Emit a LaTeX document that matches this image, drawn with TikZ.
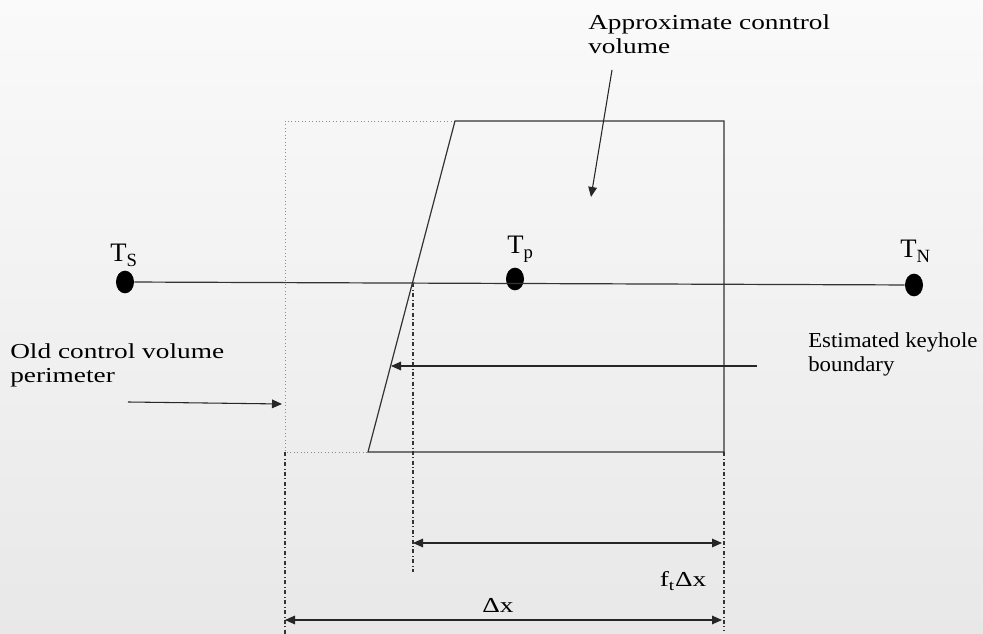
\documentclass[tikz,border=0pt]{standalone}
\usepackage{fontspec}
\setmainfont{Liberation Serif}
\usepackage{graphicx}
\usetikzlibrary{arrows.meta,shapes.geometric}
\newcommand{\wide}[2][1.28]{\scalebox{#1}[1]{#2}}

\begin{document}
\begin{tikzpicture}[
    x=0.75pt, y=-0.75pt,
    lbl/.style={font=\fontsize{16}{18}\selectfont, inner sep=0pt, align=left},
    tlbl/.style={font=\fontsize{20}{22}\selectfont, inner sep=0pt, anchor=base west},
    dot/.style={ellipse, fill=black, inner sep=0pt, minimum width=13.5pt, minimum height=17pt},
    arr/.style={-{Triangle[length=7.5pt,width=6.5pt]}, line width=0.8pt, draw=black!85},
    dim/.style={{Triangle[length=7.5pt,width=6.5pt]}-{Triangle[length=7.5pt,width=6.5pt]}, line width=0.8pt, draw=black!85},
    cv/.style={line width=0.9pt, draw=black!80},
    oldcv/.style={dotted, line width=0.6pt, draw=black!45},
    ext/.style={dash dot, line width=0.8pt, draw=black!80}
  ]
  \shade[top color=black!2, bottom color=black!9] (0,0) rectangle (983,634);
  \useasboundingbox (0,0) rectangle (983,634);

  % nodal temperatures
  \node[dot] (ts) at (125,282) {};
  \node[dot] (tp) at (515,279) {};
  \node[dot] (tn) at (914,285) {};
  \draw[cv] (ts) -- (tn);
  \node[tlbl] (tslbl) at (110,262) {T\textsubscript{S}};
  \node[tlbl] (tplbl) at (507,254) {T\textsubscript{p}};
  \node[tlbl] (tnlbl) at (900,258) {T\textsubscript{N}};

  % old and approximate control volumes
  \draw[oldcv] (455,121) -- (285,121) -- (285,452) -- (368,452);
  \draw[cv] (455,121) -- (724,121) -- (724,452) -- (368,452) -- cycle;

  % extension lines
  \draw[ext] (413,283) -- (413,572);
  \draw[ext] (285,452) -- (285,634);
  \draw[ext] (724,452) -- (724,630);

  % widths
  \coordinate (fl) at (413,543);
  \coordinate (fr) at (722,543);
  \draw[dim] (fl) -- (fr);
  \node[lbl, anchor=base] (flbl) at (683,587) {\wide{f\textsubscript{t}Δx}};
  \coordinate (dl) at (285,620);
  \coordinate (dr) at (722,620);
  \draw[dim] (dl) -- (dr);
  \node[lbl, anchor=base] (dxlbl) at (498,613) {\wide{Δx}};

  % labels
  \node[lbl, anchor=north west] (approx) at (588,14) {\wide{Approximate conntrol}\\\wide{volume}};
  \coordinate (approxs) at (612,70);
  \coordinate (approxe) at (591,197);
  \draw[arr] (approxs) -- (approxe);

  \node[lbl, anchor=north west] (keyhole) at (808,332) {\wide[1.07]{Estimated keyhole}\\\wide[1.07]{boundary}};
  \coordinate (keys) at (757,366);
  \coordinate (keye) at (391,366);
  \draw[arr] (keys) -- (keye);

  \node[lbl, anchor=north west] (oldlbl) at (10,343) {\wide{Old control volume}\\\wide{perimeter}};
  \coordinate (olds) at (128,402);
  \coordinate (olde) at (282,404);
  \draw[arr] (olds) -- (olde);
\end{tikzpicture}
\end{document}
